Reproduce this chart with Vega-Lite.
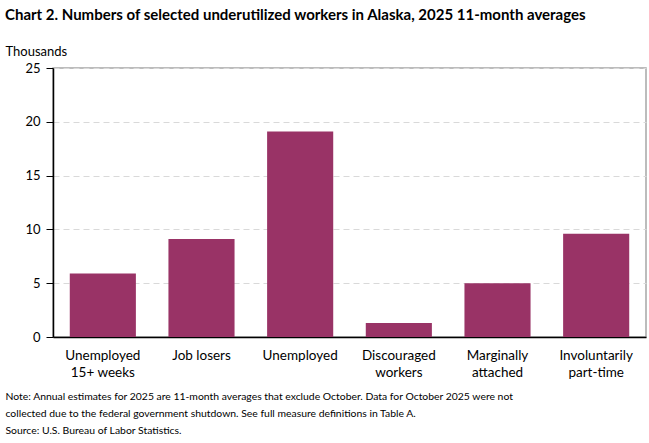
{
  "$schema": "https://vega.github.io/schema/vega-lite/v6.json",
  "description": "Numbers of selected underutilized workers in Alaska, 2025 11-month averages",
  "autosize": "none",
  "padding": {"left": 53, "top": 68, "right": 3, "bottom": 106},
  "width": 593,
  "height": 269,
  "title": {
    "text": "Chart 2. Numbers of selected underutilized workers in Alaska, 2025 11-month averages",
    "anchor": "start",
    "frame": "group",
    "dx": -48,
    "dy": -18,
    "fontSize": 15,
    "font": "Lato",
    "fontWeight": "bold",
    "color": "#000000"
  },
  "data": {
    "values": [
      {"category": "Unemployed|15+ weeks", "value": 5.9},
      {"category": "Job losers", "value": 9.1},
      {"category": "Unemployed", "value": 19.1},
      {"category": "Discouraged|workers", "value": 1.3},
      {"category": "Marginally|attached", "value": 5.0},
      {"category": "Involuntarily|part-time", "value": 9.6}
    ]
  },
  "mark": {"type": "bar", "color": "#993366"},
  "encoding": {
    "x": {
      "field": "category",
      "type": "nominal",
      "sort": null,
      "scale": {"paddingInner": 0.33, "paddingOuter": 0.17},
      "axis": {
        "labelAngle": 0,
        "labelExpr": "split(datum.label, '|')",
        "labelFontSize": 13.5,
        "labelLineHeight": 17,
        "labelPadding": 11,
        "ticks": false,
        "domainColor": "#000000",
        "domainWidth": 1.5,
        "title": [
          "Note:  Annual estimates for 2025 are 11-month averages that exclude October. Data for October 2025 were not",
          "collected due to the federal government  shutdown. See full measure definitions in Table A.",
          "Source: U.S. Bureau of Labor Statistics."
        ],
        "titleAnchor": "start",
        "titleAlign": "left",
        "titleX": -48,
        "titleY": 54,
        "titleFontWeight": "normal",
        "titleFontSize": 10.4,
        "titleLineHeight": 17
      }
    },
    "y": {
      "field": "value",
      "type": "quantitative",
      "scale": {"domain": [0, 25]},
      "axis": {
        "values": [0, 5, 10, 15, 20, 25],
        "labelFontSize": 13,
        "labelPadding": 6,
        "tickSize": 7,
        "tickColor": "#000000",
        "domainColor": "#000000",
        "domainWidth": 1.5,
        "gridColor": "#d9d9d9",
        "gridDash": [6, 4],
        "title": "Thousands",
        "titleAngle": 0,
        "titleAlign": "left",
        "titleBaseline": "bottom",
        "titleX": -48,
        "titleY": -10,
        "titleFontWeight": "normal",
        "titleFontSize": 13
      }
    }
  },
  "config": {
    "font": "Lato",
    "view": {"stroke": "#a6a6a6", "strokeWidth": 1.5},
    "axis": {"labelColor": "#000000", "titleColor": "#000000", "labelFont": "Lato", "titleFont": "Lato"}
  }
}
